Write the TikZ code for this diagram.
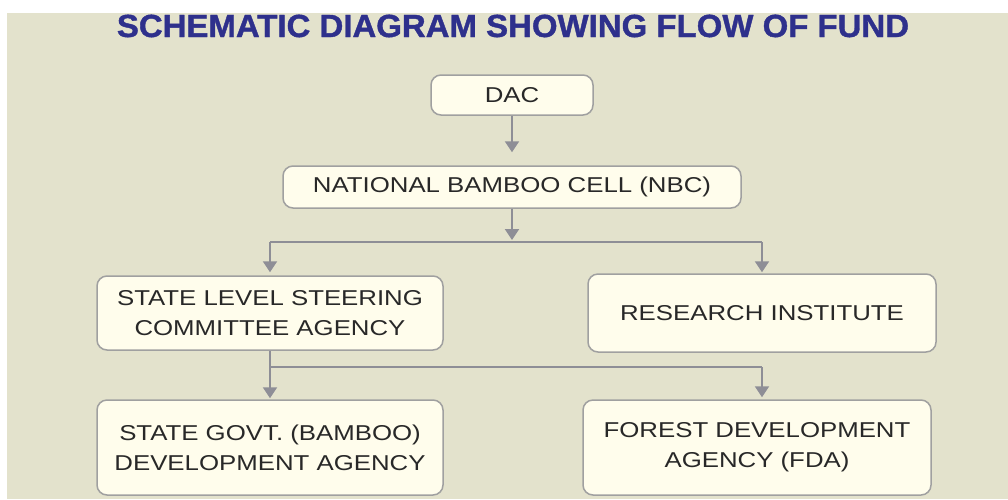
\documentclass[tikz,border=0pt]{standalone}
\usepackage{fontspec}
\usetikzlibrary{arrows.meta}
\newfontfamily\boxfont[FakeStretch=1.2]{Liberation Sans}
\newfontfamily\titlefont[FakeStretch=1.03,FakeBold=1.2]{Liberation Sans}
\definecolor{bgbeige}{RGB}{227,226,204}
\definecolor{boxfill}{RGB}{255,253,236}
\definecolor{boxline}{RGB}{160,160,160}
\definecolor{arrline}{RGB}{142,142,150}
\definecolor{titleblue}{RGB}{46,48,140}
\definecolor{txt}{RGB}{40,40,40}
\tikzset{
  flowbox/.style={draw=boxline, line width=1.5pt, fill=boxfill, rounded corners=10pt,
    align=center, text=txt, inner sep=0pt,
    font=\boxfont\fontsize{21.5}{30}\selectfont},
  conn/.style={draw=arrline, line width=2pt},
  arr/.style={conn, -{Triangle[width=14pt,length=11pt]}},
}
\begin{document}
\begin{tikzpicture}[x=1pt,y=-1pt]
\useasboundingbox (0,0) rectangle (1008,499);
\fill[white] (0,0) rectangle (1008,499);
\fill[bgbeige] (7,13) rectangle (1008,499);
\node[anchor=base, font=\titlefont\bfseries\fontsize{32}{36}\selectfont, text=titleblue] (title) at (513,37) {SCHEMATIC DIAGRAM SHOWING FLOW OF FUND};

\node[flowbox, minimum width=162pt, minimum height=40pt] (dac) at (512,95) {DAC};
\node[flowbox, minimum width=458pt, minimum height=42pt] (nbc) at (512,187) {NATIONAL BAMBOO CELL (NBC)};
\node[flowbox, minimum width=346pt, minimum height=74pt] (slsc) at (270,313) {STATE LEVEL STEERING\\COMMITTEE AGENCY};
\node[flowbox, minimum width=348pt, minimum height=78pt] (ri) at (762,313) {RESEARCH INSTITUTE};
\node[flowbox, minimum width=346pt, minimum height=95pt] (sgda) at (270,447.5) {STATE GOVT. (BAMBOO)\\DEVELOPMENT AGENCY};
\node[flowbox, minimum width=348pt, minimum height=95pt] (fda) at (757,447.5) {FOREST DEVELOPMENT\\AGENCY (FDA)};

\draw[arr, shorten >=13pt] (dac.south) -- (nbc.north);

\coordinate (j1) at (512,242);
\coordinate (jl) at (slsc.north |- j1);
\coordinate (jr) at (ri.north |- j1);
\draw[conn] (jl) -- (jr);
\draw[arr, shorten >=2pt] (nbc.south) -- (j1);
\draw[arr, shorten >=3pt] (jl) -- (slsc.north);
\draw[arr, shorten >=1pt] (jr) -- (ri.north);

\coordinate (k1) at (270,367);
\coordinate (kr) at (762,367);
\coordinate (fdatop) at (kr |- fda.north);
\draw[conn] (k1) -- (kr);
\draw[arr, shorten >=1pt] (slsc.south) -- (sgda.north);
\draw[arr, shorten >=2pt] (kr) -- (fdatop);
\end{tikzpicture}
\end{document}
